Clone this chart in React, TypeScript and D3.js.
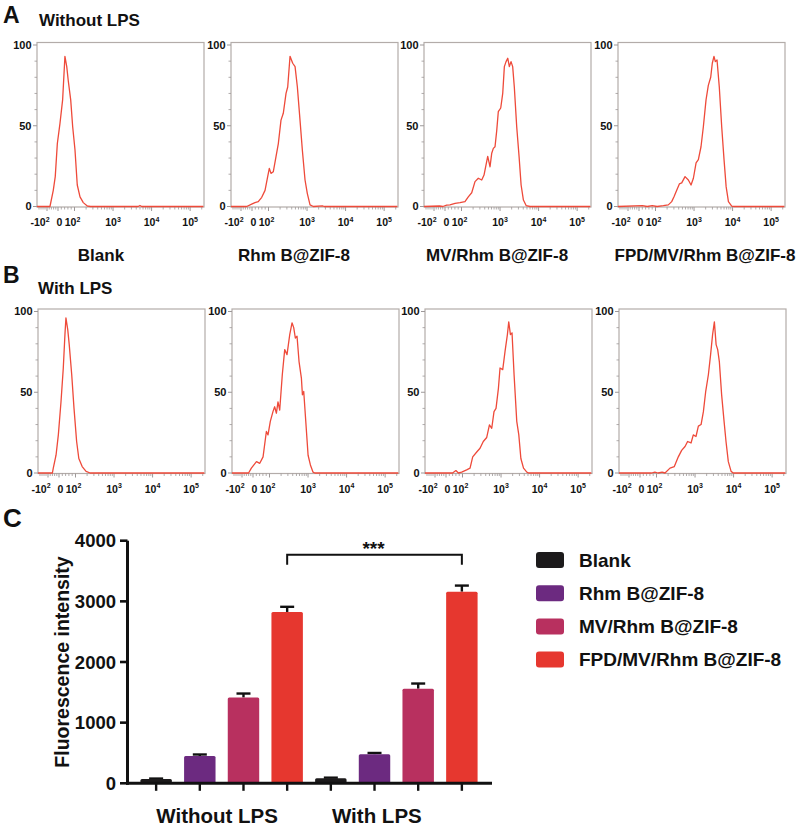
import React from 'react';
import * as d3 from 'd3';

type Pt = [number, number];

// ---------- Flow cytometry histograms: [fluorescence, % of max] ----------
const histNames = ['Blank', 'Rhm B@ZIF-8', 'MV/Rhm B@ZIF-8', 'FPD/MV/Rhm B@ZIF-8'];

const histA_blank: Pt[] = [[-200,0],[-73,0],[-43,10],[-25,18.5],[-6,39],[12,51.5],[28,66],[42,93],[53,86.6],[62,78],[77,66],[89,49.4],[103,35],[118,13.3],[139,6],[169,2.4],[215,0.3],[260,0],[4500,0],[5000,0.6],[5500,0],[220000,0]];
const histA_rhm: Pt[] = [[-200,0],[-48,0],[-3,1.5],[18,2.4],[38,3],[59,5.7],[79,10],[95,18.5],[105,23.6],[116,20.5],[133,21.5],[157,31],[180,39],[211,53.5],[242,57.7],[285,70],[315,74],[362,93],[425,88.7],[489,86.6],[561,74],[657,53.5],[755,35],[887,16.4],[1018,8],[1196,1],[1459,0],[2500,0.4],[2800,0],[220000,0]];
const histA_mv: Pt[] = [[-200,0],[-50,0.3],[-20,0],[10,0.8],[30,1],[61,2],[91,2.4],[123,3],[150,6],[184,8.5],[224,15.4],[273,17.5],[335,16.4],[384,19.5],[433,25.7],[479,31],[550,24.6],[609,33],[670,36],[741,37],[820,47],[901,58.7],[1042,61],[1174,70],[1294,86.6],[1433,89.7],[1584,91.8],[1744,86.6],[1928,89.7],[2128,86.6],[2346,74],[2707,49.4],[3117,31],[3521,13.3],[4040,4],[4750,0.6],[6000,0],[220000,0]];
const histA_fpd: Pt[] = [[-200,0],[20,0.5],[50,0],[80,0.6],[110,0],[160,0.5],[215,1],[263,3],[302,6],[355,10],[416,14],[479,14.6],[584,18.5],[712,16.4],[836,13.3],[962,17.5],[1129,27],[1294,29],[1516,37],[1744,49.4],[2047,66],[2346,75],[2707,80],[2975,88.7],[3290,93],[3568,89.7],[3948,90.7],[4520,74],[5220,49.4],[6000,29],[6800,12.3],[7800,3],[9480,0.3],[11000,0],[220000,0]];

const histB_blank: Pt[] = [[-200,0],[-60,0],[-52,3],[-27,11],[-6,23.6],[12,44],[26,65],[36,85.7],[42,96],[53,88.8],[62,79.5],[77,61],[91,40],[107,19.5],[122,9],[149,4],[188,1],[240,0],[220000,0]];
const histB_rhm: Pt[] = [[-200,0],[-40,0],[-15,3],[21,7],[41,6],[61,10],[81,25.7],[91,23.6],[105,32],[123,38],[136,41],[151,37],[166,44],[184,39],[215,61],[248,76.4],[285,73.3],[335,85.7],[384,93],[425,90],[468,83.6],[518,84.7],[584,69],[672,58.8],[714,48.4],[773,50.5],[873,32],[1003,11],[1151,5],[1350,0.5],[1500,0],[220000,0]];
const histB_mv: Pt[] = [[-200,0],[40,0],[60,1.5],[75,0],[95,0.5],[128,1.9],[157,3],[184,10],[234,13],[285,15.3],[346,19.5],[425,22],[500,29.8],[574,27.7],[657,38],[741,40],[856,52.6],[942,65],[1106,64],[1270,75.3],[1461,85.7],[1584,93.6],[1753,85.7],[1928,86.8],[2177,61],[2557,32],[2890,23.6],[3270,9],[3830,3],[4670,0.5],[5200,0],[220000,0]];
const histB_fpd: Pt[] = [[-200,0],[70,0],[90,0.6],[110,0],[140,0.5],[166,0],[224,3],[290,4],[368,10],[449,14],[550,16.4],[641,19.5],[787,18.6],[901,23.6],[1058,22.6],[1220,29],[1433,30],[1647,38],[1893,50.6],[2222,61],[2533,73.3],[2853,85.7],[3174,93.6],[3521,79.5],[3870,76.4],[4270,69],[4900,48.4],[5665,32],[6360,19.5],[7300,7],[8620,1],[9800,0],[220000,0]];

const histRowA = [histA_blank, histA_rhm, histA_mv, histA_fpd];
const histRowB = [histB_blank, histB_rhm, histB_mv, histB_fpd];

const histYTicks = [0, 50, 100];
const histYMinor = [10, 20, 30, 40, 60, 70, 80, 90];
const histXMajor = [-100, 0, 100, 1000, 10000, 100000];
const histXLabelBase = ['-10', '0', '10', '10', '10', '10'];
const histXLabelSup = ['2', '', '2', '3', '4', '5'];

// ---------- Bar chart ----------
const groups = ['Without LPS', 'With LPS'];
const series = ['Blank', 'Rhm B@ZIF-8', 'MV/Rhm B@ZIF-8', 'FPD/MV/Rhm B@ZIF-8'];
const meansWithout = [70, 450, 1415, 2825];
const errWithout = [8, 25, 65, 85];
const meansWith = [85, 480, 1560, 3160];
const errWith = [8, 20, 85, 100];
const barYTicks = [0, 1000, 2000, 3000, 4000];
const seriesColors = ['#1c1a1b', '#6c2a80', '#b8305f', '#e6372f'];

// ---------- layout ----------
const FONT = "'Liberation Sans', Arial, Helvetica, sans-serif";
const boxLefts = [37, 231, 424, 618];
const BOX_W = 167;
const HIST_H = 161.5;
const rowBottoms = [206.5, 473];
const nameCx = [101, 294, 497, 705];
const xLabelShift = [-7, 1.5, -2, 0, 0, 0];
const LINE_COLOR = '#ee4a3a';
const FRAME = '#b3aca9';
const TICKC = '#9d9898';

const toU = (v: number) => (v > 100 ? 1 + Math.log10(v / 100) : v / 100);

function minorXTicks(): number[] {
  const out: number[] = [];
  for (let v = -180; v <= 80; v += 20) if (v !== -100 && v !== 0) out.push(v);
  for (let k = 2; k <= 5; k++) {
    for (let m = 2; m <= 9; m++) {
      const v = m * Math.pow(10, k);
      if (toU(v) <= 4.36) out.push(v);
    }
  }
  return out;
}

function Hist({ left, bottom, data }: { left: number; bottom: number; data: Pt[] }) {
  const x = d3.scaleLinear().domain([-2, -1, 0, 1, 4.36]).range([left, left + 10, left + 21, left + 37.5, left + BOX_W]);
  const y = d3.scaleLinear().domain([0, 100]).range([bottom, bottom - HIST_H]);
  const top = y(100) - 2.5;
  const line = d3.line<Pt>().x(d => x(toU(d[0]))).y(d => y(d[1]));
  return (
    <g>
      <rect x={left} y={top} width={BOX_W} height={bottom - top + 0.5} fill="none" stroke={FRAME} strokeWidth={1.2} />
      {histYMinor.map(t => (
        <line key={'ym' + t} x1={left - 2.5} x2={left} y1={y(t)} y2={y(t)} stroke={TICKC} strokeWidth={0.8} />
      ))}
      {histYTicks.map(t => (
        <g key={'y' + t}>
          <line x1={left - 4} x2={left} y1={y(t)} y2={y(t)} stroke={TICKC} strokeWidth={1} />
          <text x={left - 5.5} y={y(t)} dy="0.35em" textAnchor="end" fontSize={11} fontWeight="bold" fill="#111">{t}</text>
        </g>
      ))}
      {minorXTicks().map(v => (
        <line key={'xm' + v} x1={x(toU(v))} x2={x(toU(v))} y1={bottom + 0.5} y2={bottom + 3} stroke={TICKC} strokeWidth={0.8} />
      ))}
      {histXMajor.map((v, i) => (
        <g key={'x' + v}>
          <line x1={x(toU(v))} x2={x(toU(v))} y1={bottom + 0.5} y2={bottom + 4.5} stroke={TICKC} strokeWidth={1} />
          <text x={x(toU(v)) + xLabelShift[i]} y={bottom + 19.5} textAnchor="middle" fontSize={10.5} fontWeight="bold" fill="#111">
            <tspan>{histXLabelBase[i]}</tspan>
            {histXLabelSup[i] ? <tspan dy={-4.5} fontSize={7}>{histXLabelSup[i]}</tspan> : null}
          </text>
        </g>
      ))}
      <path d={line(data) || ''} fill="none" stroke={LINE_COLOR} strokeWidth={1.3} strokeLinejoin="round" />
    </g>
  );
}

function BarChart() {
  const keys: string[] = [];
  groups.forEach(g => series.forEach(s => keys.push(g + '|' + s)));
  const values = [...meansWithout, ...meansWith];
  const errs = [...errWithout, ...errWith];
  const x = d3.scaleBand<string>().domain(keys).range([126, 492]).paddingInner(0.28).paddingOuter(0.33);
  const y = d3.scaleLinear().domain([0, 4000]).range([783.3, 540.7]);
  const bw = x.bandwidth();
  const cx = (k: string) => (x(k) as number) + bw / 2;
  const groupCenter = (g: string) => (cx(g + '|' + series[0]) + cx(g + '|' + series[series.length - 1])) / 2;
  const groupLabelShift = [-4.5, -19.5];
  const k4 = keys[3];
  const k8 = keys[7];
  const bracketY = y(3770);
  return (
    <g>
      {keys.map((k, i) => (
        <line key={'e' + k} x1={cx(k)} x2={cx(k)} y1={y(values[i])} y2={y(values[i] + errs[i])} stroke="#111" strokeWidth={2.4} />
      ))}
      {keys.map((k, i) => (
        <line key={'c' + k} x1={cx(k) - 7} x2={cx(k) + 7} y1={y(values[i] + errs[i])} y2={y(values[i] + errs[i])} stroke="#111" strokeWidth={2.4} />
      ))}
      {keys.map((k, i) => (
        <rect key={'b' + k} x={x(k)} y={y(values[i])} width={bw} height={y(0) - y(values[i])} fill={seriesColors[i % 4]} rx={1.5} />
      ))}
      {/* y axis */}
      <line x1={127.5} x2={127.5} y1={y(4000)} y2={y(0) + 1.5} stroke="#111" strokeWidth={3} />
      {barYTicks.map(t => (
        <g key={'yt' + t}>
          <line x1={120} x2={127.5} y1={y(t)} y2={y(t)} stroke="#111" strokeWidth={2.6} />
          <text x={116} y={y(t)} dy="0.36em" textAnchor="end" fontSize={18.5} fontWeight="bold" fill="#111">{t}</text>
        </g>
      ))}
      <text transform={`translate(69,${(y(0) + y(4000)) / 2 + 0}) rotate(-90)`} textAnchor="middle" fontSize={19.5} fontWeight="bold" fill="#111">Fluorescence intensity</text>
      {/* x axis */}
      <line x1={126} x2={492} y1={y(0)} y2={y(0)} stroke="#111" strokeWidth={3} />
      {keys.map(k => (
        <line key={'xt' + k} x1={cx(k)} x2={cx(k)} y1={y(0)} y2={y(0) + 7.5} stroke="#111" strokeWidth={2.4} />
      ))}
      {groups.map((g, i) => (
        <text key={g} x={groupCenter(g) + groupLabelShift[i]} y={823} textAnchor="middle" fontSize={20.5} fontWeight="bold" fill="#111">{g}</text>
      ))}
      {/* significance */}
      <path d={`M${cx(k4)},${bracketY + 10}V${bracketY}H${cx(k8)}V${bracketY + 10}`} fill="none" stroke="#111" strokeWidth={2} />
      <text x={(cx(k4) + cx(k8)) / 2 - 1} y={bracketY + 0.5} textAnchor="middle" fontSize={19} fontWeight="bold" fill="#111">***</text>
      {/* legend */}
      {series.map((s, i) => (
        <g key={'lg' + s}>
          <rect x={536} y={552 + i * 33.2} width={28} height={16} rx={3} fill={seriesColors[i]} />
          <text x={579} y={552 + i * 33.2 + 14.8} fontSize={19} fontWeight="bold" fill="#111">{s}</text>
        </g>
      ))}
    </g>
  );
}

export default function App() {
  return (
    <svg width={797} height={826} style={{ position: 'absolute', left: 0, top: 0, background: '#fff' }} fontFamily={FONT}>
      <rect x={0} y={0} width={797} height={826} fill="#fff" />
      <text x={3} y={23} fontSize={23} fontWeight="bold" fill="#111">A</text>
      <text x={39} y={26} fontSize={17} fontWeight="bold" fill="#111">Without LPS</text>
      {histRowA.map((d, i) => (
        <Hist key={'A' + i} left={boxLefts[i]} bottom={rowBottoms[0]} data={d} />
      ))}
      {histNames.map((n, i) => (
        <text key={'n' + i} x={nameCx[i]} y={261} textAnchor="middle" fontSize={17} fontWeight="bold" fill="#111">{n}</text>
      ))}
      <text x={3} y={283} fontSize={23} fontWeight="bold" fill="#111">B</text>
      <text x={38} y={294} fontSize={17} fontWeight="bold" fill="#111">With LPS</text>
      {histRowB.map((d, i) => (
        <Hist key={'B' + i} left={boxLefts[i] + 1} bottom={rowBottoms[1]} data={d} />
      ))}
      <text x={3} y={527} fontSize={26} fontWeight="bold" fill="#111">C</text>
      <BarChart />
    </svg>
  );
}
